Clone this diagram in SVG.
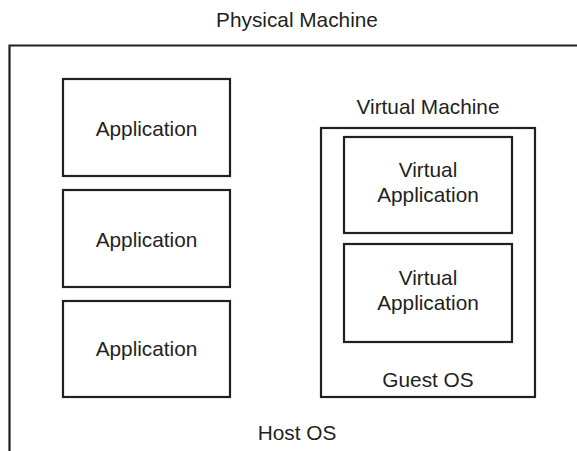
<svg xmlns="http://www.w3.org/2000/svg" width="577" height="451" viewBox="0 0 577 451">
<style>
.b{fill:#fff;stroke:#231f20;stroke-width:2.2}
.t{font-family:"Liberation Sans",Arial,sans-serif;font-size:20.8px;fill:#231f20;text-anchor:middle}
</style>
<rect width="577" height="451" fill="#fff"/>
<g id="physical-machine">
<path d="M9.5,451 V45.5 H577" fill="none" stroke="#231f20" stroke-width="2.2"/>
<text class="t" x="297" y="27">Physical Machine</text>
<text class="t" x="297" y="440">Host OS</text>
</g>
<g id="app1"><rect class="b" x="63" y="79" width="167" height="97"/><text class="t" x="146.5" y="136">Application</text></g>
<g id="app2"><rect class="b" x="63" y="190" width="167" height="97"/><text class="t" x="146.5" y="247">Application</text></g>
<g id="app3"><rect class="b" x="63" y="301" width="167" height="96"/><text class="t" x="146.5" y="356">Application</text></g>
<g id="vm">
<text class="t" x="428" y="114">Virtual Machine</text>
<rect class="b" x="321" y="128" width="214" height="269"/>
<text class="t" x="428" y="387">Guest OS</text>
</g>
<g id="vapp1"><rect class="b" x="344" y="137" width="168" height="96"/><text class="t" x="428" y="177">Virtual</text><text class="t" x="428" y="202">Application</text></g>
<g id="vapp2"><rect class="b" x="344" y="244" width="168" height="98"/><text class="t" x="428" y="285">Virtual</text><text class="t" x="428" y="310">Application</text></g>
<g id="connectors"/>
</svg>
